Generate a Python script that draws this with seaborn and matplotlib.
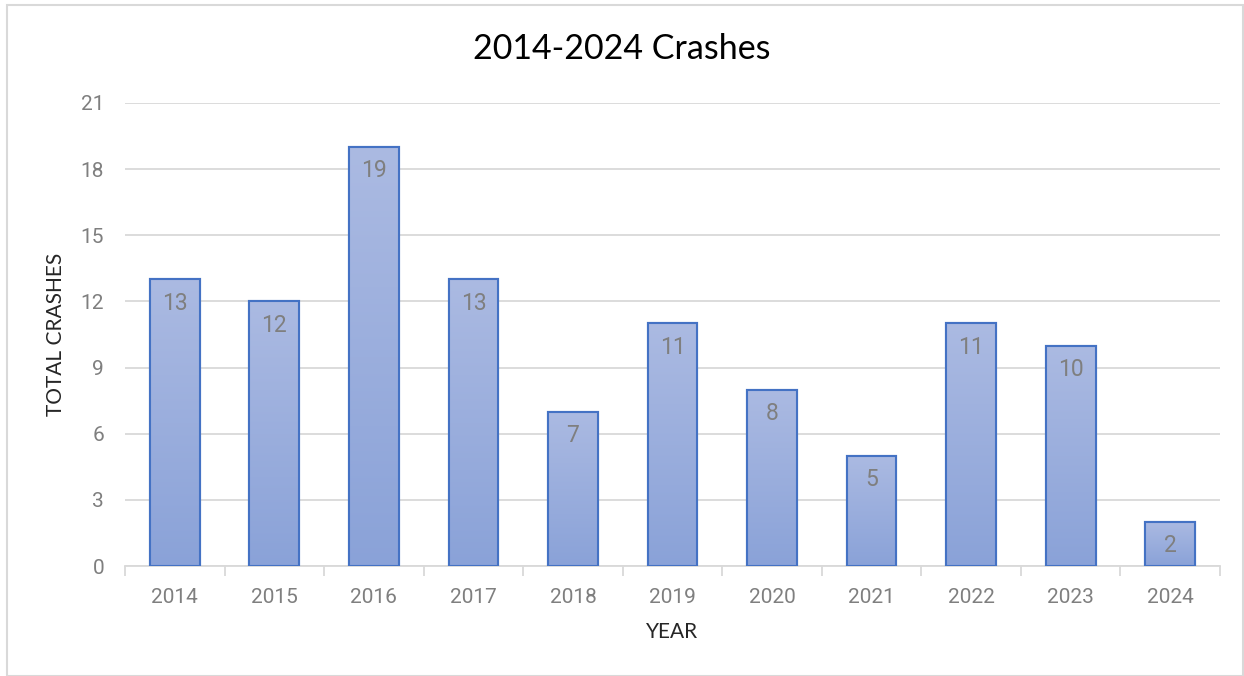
import numpy as np
import pandas as pd
import matplotlib
matplotlib.use("Agg")
import matplotlib.pyplot as plt
from matplotlib.colors import LinearSegmentedColormap
from matplotlib.patches import Rectangle
import seaborn as sns

years = ["2014", "2015", "2016", "2017", "2018", "2019", "2020", "2021", "2022", "2023", "2024"]
crashes = [13, 12, 19, 13, 7, 11, 8, 5, 11, 10, 2]
yticks = [0, 3, 6, 9, 12, 15, 18, 21]

sns.set_theme(style="white")
plt.rcParams['font.family'] = ['Roboto', 'DejaVu Sans']

df = pd.DataFrame({"year": years, "crashes": crashes})

fig = plt.figure(figsize=(12.44, 6.76), dpi=100)
ax = fig.add_axes([125/1244, 1 - 566/676, (1220-125)/1244, (566-103)/676])

sns.barplot(data=df, x="year", y="crashes", ax=ax, width=0.5,
            color="#98ace0", edgecolor="#4472c4", linewidth=1.5, zorder=3)

ax.set_ylim(0, 21)
ax.set_xlim(-0.5, len(years) - 0.5)
ax.set_yticks(yticks)

# gradient fill inside bars
cmap = LinearSegmentedColormap.from_list("g", ["#8aa2d8", "#abbae2"])
grad = np.linspace(0, 1, 256).reshape(-1, 1)
for p in list(ax.patches):
    x0, y0 = p.get_x(), p.get_y()
    w, h = p.get_width(), p.get_height()
    im = ax.imshow(grad, cmap=cmap, origin="lower", aspect="auto",
                   extent=[x0, x0 + w, y0, y0 + h], zorder=3.5)
    im.set_clip_path(p)
    edge = Rectangle((x0, y0), w, h, fill=False, edgecolor="#4472c4",
                     linewidth=1.5, zorder=4)
    ax.add_patch(edge)
ax.set_xlim(-0.5, len(years) - 0.5)
ax.set_ylim(0, 21)

# value labels
for i, v in enumerate(crashes):
    ax.text(i, v - 1.08, str(v), ha="center", va="center", fontsize=16.5,
            color="#7f7f7f", zorder=5)

ax.grid(axis="y", color="#d9d9d9", linewidth=1.3, zorder=0)
ax.set_axisbelow(True)
for s in ["top", "right", "left"]:
    ax.spines[s].set_visible(False)
ax.spines["bottom"].set_color("#d9d9d9")
ax.spines["bottom"].set_linewidth(1.3)

ax.tick_params(axis="y", length=0, pad=15, labelsize=15, labelcolor="#7f7f7f")
ax.tick_params(axis="x", length=0, pad=16, labelsize=15, labelcolor="#7f7f7f")
# boundary tick marks between categories
ax.set_xticks(np.arange(-0.5, len(years), 1.0), minor=True)
ax.tick_params(axis="x", which="minor", length=7, width=1.3, color="#d9d9d9", bottom=True)

ax.set_xlabel("YEAR", fontsize=15, color="#262626", family=["Lato", "DejaVu Sans"], labelpad=11)
ax.set_ylabel("TOTAL CRASHES", fontsize=15, color="#262626", family=["Lato", "DejaVu Sans"], labelpad=10.5)
fig.text(0.5, 1 - 49/676, "2014-2024 Crashes", ha="center", va="center",
         fontsize=24.5, color="#000000", family=["Lato", "DejaVu Sans"])

# outer frame
fig.patches.append(Rectangle((7/1244, 0), (1244-7)/1244 - 0.001, 1 - 5/676,
                             transform=fig.transFigure, fill=False,
                             edgecolor="#d9d9d9", linewidth=1.5))

fig.savefig("out.png", dpi=100)
